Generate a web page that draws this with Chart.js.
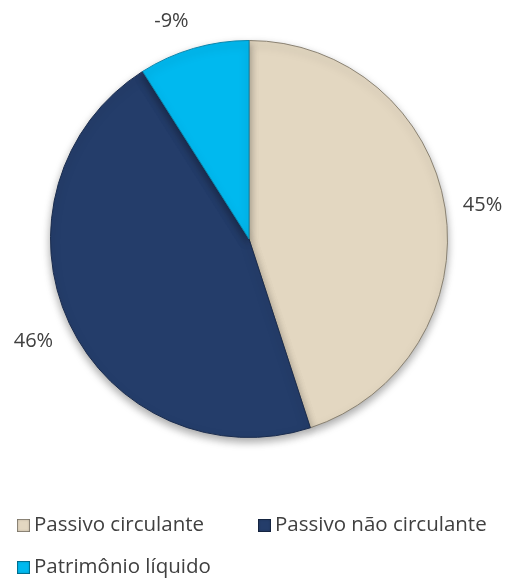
<!DOCTYPE html>
<html>
<head>
<meta charset="utf-8">
<script src="https://cdn.jsdelivr.net/npm/chart.js@4"></script>
<style>
  body { margin: 0; background: #fff; }
  #wrap { position: relative; width: 508px; height: 578px; }
  #legend { position: absolute; left: 0; top: 0; width: 508px; height: 578px; pointer-events: none;
    font-family: "Open Sans", sans-serif; font-size: 20.5px; color: #404040; }
  .item { position: absolute; white-space: nowrap; line-height: 22px; }
  .box { display: inline-block; width: 13px; height: 13px; margin-right: 4px; vertical-align: -1px;
    box-shadow: inset 0 0 0 1px rgba(0,0,0,0.3), inset 0 0 3px rgba(0,0,0,0.35); }
</style>
</head>
<body>
<div id="wrap">
  <canvas id="myChart" width="508" height="578"></canvas>
  <div id="legend"></div>
</div>
<script>
// Pie data
var categories = ["Passivo circulante", "Passivo não circulante", "Patrimônio líquido"];
var values = [45, 46, -9];
var sliceColors = ["#E3D7C1", "#243D6A", "#00B9EF"];
var sliceBorders = ["#8a8272", "#1a2c4e", "#0a86ad"];

var absValues = values.map(function(v) { return Math.abs(v); });

// labels outside the slices
var outsideLabels = {
  id: 'outsideLabels',
  afterDatasetsDraw: function(chart) {
    var ctx = chart.ctx;
    var meta = chart.getDatasetMeta(0);
    ctx.save();
    ctx.font = "20px 'Open Sans', sans-serif";
    ctx.fillStyle = "#404040";
    meta.data.forEach(function(arc, i) {
      var p = arc.getProps(['x', 'y', 'startAngle', 'endAngle', 'outerRadius'], true);
      var mid = (p.startAngle + p.endAngle) / 2;
      var r = p.outerRadius + 18;
      var cx = Math.cos(mid), cy = Math.sin(mid);
      var x = p.x + r * cx, y = p.y + r * cy;
      ctx.textAlign = cx > 0.2 ? 'left' : (cx < -0.2 ? 'right' : 'center');
      ctx.textBaseline = cy < -0.3 ? 'bottom' : (cy > 0.3 ? 'top' : 'middle');
      ctx.fillText(values[i] + '%', x, y);
    });
    ctx.restore();
  }
};

// soft shadow under the pie
var pieShadow = {
  id: 'pieShadow',
  beforeDatasetsDraw: function(chart) {
    var ctx = chart.ctx;
    ctx.save();
    ctx.shadowColor = 'rgba(0,0,0,0.35)';
    ctx.shadowBlur = 8;
    ctx.shadowOffsetY = 4;
  },
  afterDatasetsDraw: function(chart) {
    chart.ctx.restore();
  }
};

new Chart(document.getElementById('myChart'), {
  type: 'pie',
  data: {
    labels: categories,
    datasets: [{
      data: absValues,
      backgroundColor: sliceColors,
      borderColor: sliceBorders,
      borderWidth: 1
    }]
  },
  options: {
    responsive: false,
    animation: false,
    layout: { padding: { top: 40, bottom: 140, left: 50, right: 60 } },
    plugins: {
      legend: { display: false },
      tooltip: { enabled: false }
    }
  },
  plugins: [pieShadow, outsideLabels]
});

// legend
var legendPos = [[17, 512], [258, 512], [17, 554]];
var legend = document.getElementById('legend');
categories.forEach(function(name, i) {
  var d = document.createElement('div');
  d.className = 'item';
  d.style.left = legendPos[i][0] + 'px';
  d.style.top = legendPos[i][1] + 'px';
  d.innerHTML = '<span class="box" style="background:' + sliceColors[i] + '"></span>' + name;
  legend.appendChild(d);
});
</script>
</body>
</html>
